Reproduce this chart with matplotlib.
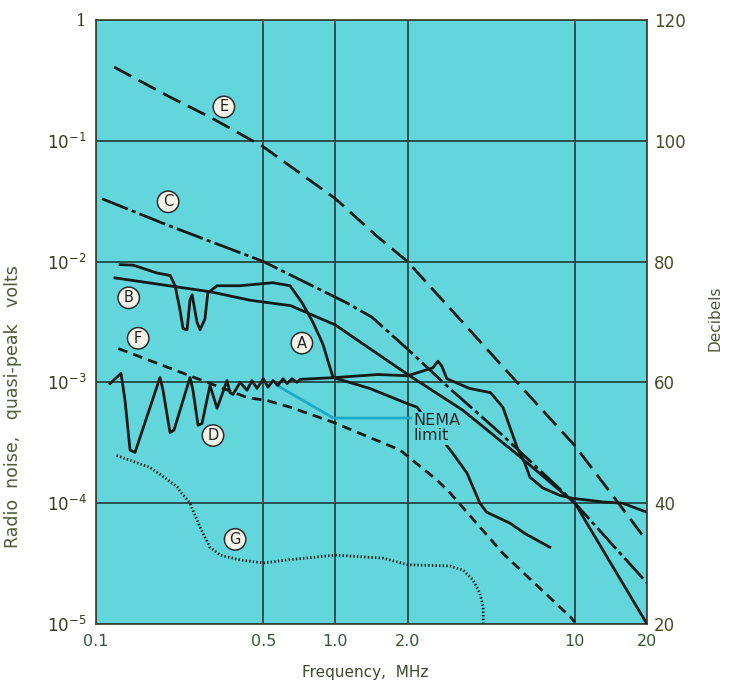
import numpy as np
import matplotlib.pyplot as plt
from matplotlib.ticker import NullLocator

# levels: frequency in MHz, level in dB (right axis, 120 dB = 1 V)
e_freq = [0.119, 0.2, 0.3, 0.5, 1.0, 1.48, 2.0, 5.0, 10, 15, 20]
e_db = [112.2, 107.4, 103.9, 99.0, 90.4, 84.3, 80.0, 62.6, 49.5, 40.3, 33.7]

c_freq = [0.106, 0.2, 0.5, 1.11, 1.42, 2.0, 3.0, 5.0, 10, 20]
c_db = [90.4, 86.0, 80.0, 73.2, 70.8, 65.5, 59.0, 51.2, 40.0, 26.8]

b_freq = [0.12, 0.3, 0.44, 0.65, 1.0, 1.39, 2.04, 3.4, 5.73, 10, 20]
b_db = [77.3, 75.0, 73.6, 72.7, 69.5, 65.6, 61.1, 55.4, 48.1, 40.0, 20.0]

a_freq = [0.126, 0.143, 0.180, 0.204, 0.214, 0.224, 0.231, 0.240, 0.247, 0.252,
          0.264, 0.272, 0.285, 0.293, 0.320, 0.399, 0.548, 0.646, 0.725, 0.804,
          0.887, 0.931, 0.978, 1.39, 1.99, 2.19, 3.07, 3.54, 4.01, 4.28, 5.35,
          6.17, 7.86]
a_db = [79.5, 79.4, 78.1, 77.7, 76.0, 72.1, 68.9, 68.7, 73.7, 74.5,
        70.0, 68.7, 70.5, 74.8, 76.0, 76.0, 76.5, 76.0, 73.2, 70.0,
        66.3, 63.5, 60.8, 59.0, 56.5, 55.9, 48.4, 45.0, 40.0, 38.5, 36.7,
        35.0, 32.7]

d_freq = [0.1144, 0.1272, 0.1322, 0.1387, 0.1455, 0.185, 0.1905, 0.2037, 0.2117,
          0.2469, 0.2541, 0.2667, 0.2771, 0.2992, 0.308, 0.3201, 0.3326, 0.3524,
          0.3627, 0.3733, 0.3995, 0.4272, 0.4482, 0.4702, 0.5, 0.5226, 0.5483,
          0.5753, 0.6037, 0.6274, 0.6583, 0.6907, 0.711, 1.0, 1.5, 2.0, 2.2,
          2.55, 2.68, 2.78, 2.92, 3.63, 4.44, 5.0, 5.73, 6.18, 6.49, 7.36, 8.65,
          9.8, 13.1, 15.8, 20]
d_db = [59.8, 61.5, 57.0, 48.8, 48.4, 60.8, 58.7, 51.7, 52.1,
        60.8, 58.7, 52.9, 53.2, 59.5, 57.9, 55.7, 57.5, 60.3,
        58.3, 58.0, 60.0, 58.7, 60.3, 59.0, 60.6, 59.2, 60.3,
        59.5, 60.6, 59.8, 60.6, 60.0, 60.5, 60.8, 61.3, 61.1, 61.6,
        62.4, 63.5, 62.7, 60.6, 59.0, 58.3, 55.9, 49.3, 46.6, 44.3, 42.5, 41.3,
        40.8, 40.2, 40.0, 38.5]

f_freq = [0.124, 0.427, 0.517, 0.646, 0.977, 1.86, 2.66, 3.01, 5.0, 9.55, 10]
f_db = [65.6, 57.5, 57.0, 55.9, 53.4, 48.8, 43.8, 41.7, 31.7, 21.2, 20.3]

g_freq = [0.122, 0.168, 0.185, 0.218, 0.224, 0.247, 0.272, 0.299, 0.330, 0.399,
          0.5, 0.627, 1.0, 1.58, 2.0, 3.01, 3.42, 3.75, 4.01, 4.14, 4.14]
g_db = [47.9, 45.9, 44.8, 42.7, 42.0, 40.0, 36.0, 32.7, 31.4, 30.6,
        30.1, 30.6, 31.4, 30.9, 29.8, 29.6, 28.9, 27.3, 25.1, 22.8, 20.2]

nema_freq = [0.57, 0.98, 2.1]
nema_db = [59.5, 54.1, 54.1]

curve_labels = ['E', 'C', 'B', 'F', 'D', 'A', 'G']
label_freq = [0.342, 0.2, 0.137, 0.150, 0.308, 0.724, 0.381]
label_db = [105.6, 89.9, 74.0, 67.3, 51.2, 66.5, 34.0]

x_ticks = [0.1, 0.5, 1.0, 2.0, 10, 20]
x_ticklabels = ['0.1', '0.5', '1.0', '2.0', '10', '20']
v_ticks = [1e-5, 1e-4, 1e-3, 1e-2, 1e-1, 1]
v_ticklabels = ['$10^{-5}$', '$10^{-4}$', '$10^{-3}$', '$10^{-2}$', '$10^{-1}$', '1']
db_ticks = [20, 40, 60, 80, 100, 120]

BG = '#62d6db'
INK = '#141a18'
GRID = '#1d3b38'


def volts(db):
    return 10 ** ((np.asarray(db, dtype=float) - 120) / 20)


fig = plt.figure(figsize=(7.29, 6.8), dpi=100)
ax = fig.add_axes([0.1317, 0.0824, 0.7558, 0.8882])
ax.set_facecolor(BG)
ax.set_xscale('log')
ax.set_yscale('log')
ax.set_xlim(0.1, 20)
ax.set_ylim(1e-5, 1)

ax.set_xticks(x_ticks)
ax.set_xticklabels(x_ticklabels, color='#2f5a30', fontsize=11.5)
ax.set_yticks(v_ticks)
ax.set_yticklabels(v_ticklabels, color='#3b3a1e', fontsize=12, family='DejaVu Serif')
ax.xaxis.set_minor_locator(NullLocator())
ax.yaxis.set_minor_locator(NullLocator())
ax.tick_params(length=0, pad=7)
ax.grid(True, color=GRID, lw=1.2)
ax.set_axisbelow(True)
for s in ax.spines.values():
    s.set_color('#33412f')
    s.set_linewidth(1.2)

lw = 2.0
ax.plot(e_freq, volts(e_db), color=INK, lw=lw, dashes=(7, 3), zorder=4)
ax.plot(c_freq, volts(c_db), color=INK, lw=lw, dashes=(10, 1.5, 1.5, 1.5), zorder=4)
ax.plot(b_freq, volts(b_db), color=INK, lw=lw, zorder=4)
ax.plot(a_freq, volts(a_db), color=INK, lw=lw, zorder=2)
ax.plot(d_freq, volts(d_db), color=INK, lw=lw, zorder=4)
ax.plot(f_freq, volts(f_db), color=INK, lw=lw, dashes=(3.5, 2.2), zorder=4)
ax.plot(g_freq, volts(g_db), color=INK, lw=2.0, dashes=(0.5, 0.8), zorder=4)
ax.plot(nema_freq, volts(nema_db), color='#1ea9c6', lw=2.0, zorder=3)

ax.text(2.12, volts(52.4), 'NEMA\nlimit', ha='left', va='center', fontsize=11.5,
        color='#1f2a2a', linespacing=1.0, zorder=3,
        bbox=dict(boxstyle='square,pad=0.1', fc=BG, ec='none'))

for lab, f, db in zip(curve_labels, label_freq, label_db):
    ax.text(f, volts(db), lab, ha='center', va='center', fontsize=10.5, color='#222',
            zorder=6, bbox=dict(boxstyle='circle,pad=0.22', fc='#f3f3ea', ec='#2b2b2b', lw=1.1))

ax2 = ax.twinx()
ax2.set_ylim(20, 120)
ax2.set_yticks(db_ticks)
ax2.set_yticklabels([str(t) for t in db_ticks], color='#4a4a28', fontsize=12)
ax2.tick_params(length=0, pad=5)
for s in ax2.spines.values():
    s.set_visible(False)

ax.set_ylabel('Radio  noise,   quasi-peak   volts', fontsize=12.5, color='#4d5a36')
ax.yaxis.set_label_coords(-0.134, 0.36)
ax.set_xlabel('Frequency,  MHz', fontsize=11, color='#3d4a2a')
ax.xaxis.set_label_coords(0.488, -0.068)
ax2.set_ylabel('Decibels', fontsize=11, color='#4d5a36')
ax2.yaxis.set_label_coords(1.109, 0.507)

fig.savefig('out.png', dpi=100, facecolor='white')
